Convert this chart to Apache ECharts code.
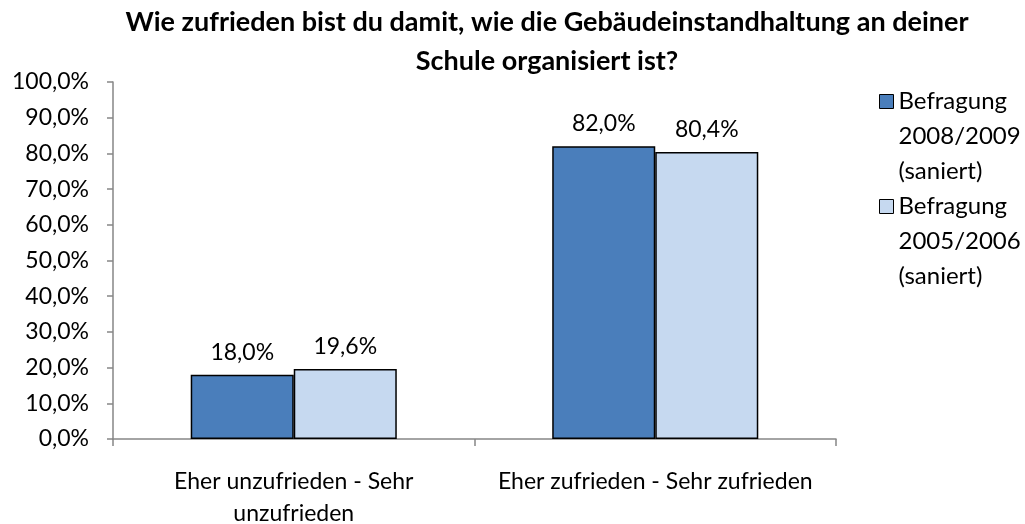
<!DOCTYPE html>
<html lang="de">
<head>
<meta charset="utf-8">
<title>Gebäudeinstandhaltung</title>
<script src="https://cdn.jsdelivr.net/npm/echarts@6/dist/echarts.min.js"></script>
<style>
html,body{margin:0;padding:0;background:#fff;}
#chart{width:1025px;height:524px;}
</style>
</head>
<body>
<div id="chart"></div>
<script>
var categories = ['Eher unzufrieden - Sehr\nunzufrieden', 'Eher zufrieden - Sehr zufrieden'];
var seriesNames = ['Befragung\n2008/2009\n(saniert)', 'Befragung\n2005/2006\n(saniert)'];
var values2008 = [18.0, 82.0];
var values2005 = [19.6, 80.4];
var colors = ['#4a7ebb', '#c6d9f0'];

var font = 'Lato, "Open Sans", sans-serif';
function pct(v){
    return v.toFixed(1).replace('.', ',') + '%';
}
var chart = echarts.init(document.getElementById('chart'));
chart.setOption({
    animation: false,
    textStyle: {fontFamily: font},
    title: {
        text: 'Wie zufrieden bist du damit, wie die Gebäudeinstandhaltung an deiner\nSchule organisiert ist?',
        left: 542,
        textAlign: 'center',
        top: -2,
        textStyle: {fontSize: 27, fontWeight: 'bold', color: '#000', lineHeight: 39, fontFamily: font}
    },
    legend: {
        orient: 'vertical',
        left: 874,
        top: 9,
        itemWidth: 14,
        itemHeight: 14,
        itemGap: -70,
        icon: 'rect',
        itemStyle: {borderColor: '#000', borderWidth: 1},
        // two blank lines first so the icon sits beside the first text line
        formatter: function(name){ return '\n\n' + name; },
        textStyle: {fontSize: 24, color: '#000', lineHeight: 35, fontFamily: font},
        data: seriesNames
    },
    grid: {left: 113, right: 189, top: 82, bottom: 85, outerBoundsMode: 'none'},
    xAxis: {
        type: 'category',
        data: categories,
        axisLine: {lineStyle: {color: '#868686', width: 1.5}},
        axisTick: {show: true, length: 7, lineStyle: {color: '#868686', width: 1.5}},
        axisLabel: {interval: 0, fontSize: 23, color: '#000', margin: 27, lineHeight: 32, fontFamily: font}
    },
    yAxis: {
        type: 'value',
        min: 0,
        max: 100,
        interval: 10,
        axisLine: {show: true, lineStyle: {color: '#868686', width: 1.5}},
        axisTick: {show: true, length: 6, lineStyle: {color: '#868686', width: 1.5}},
        splitLine: {show: false},
        axisLabel: {fontSize: 23, color: '#000', margin: 24, formatter: pct, fontFamily: font}
    },
    series: [
        {
            name: seriesNames[0],
            type: 'bar',
            data: values2008,
            barGap: '0%',
            barCategoryGap: '43%',
            itemStyle: {color: colors[0], borderColor: '#000', borderWidth: 1.5},
            label: {show: true, position: 'top', distance: 11, fontSize: 23, color: '#000',
                formatter: function(p){ return pct(p.value); }}
        },
        {
            name: seriesNames[1],
            type: 'bar',
            data: values2005,
            barGap: '0%',
            barCategoryGap: '43%',
            itemStyle: {color: colors[1], borderColor: '#000', borderWidth: 1.5},
            label: {show: true, position: 'top', distance: 11, fontSize: 23, color: '#000',
                formatter: function(p){ return pct(p.value); }}
        }
    ]
});
</script>
</body>
</html>
